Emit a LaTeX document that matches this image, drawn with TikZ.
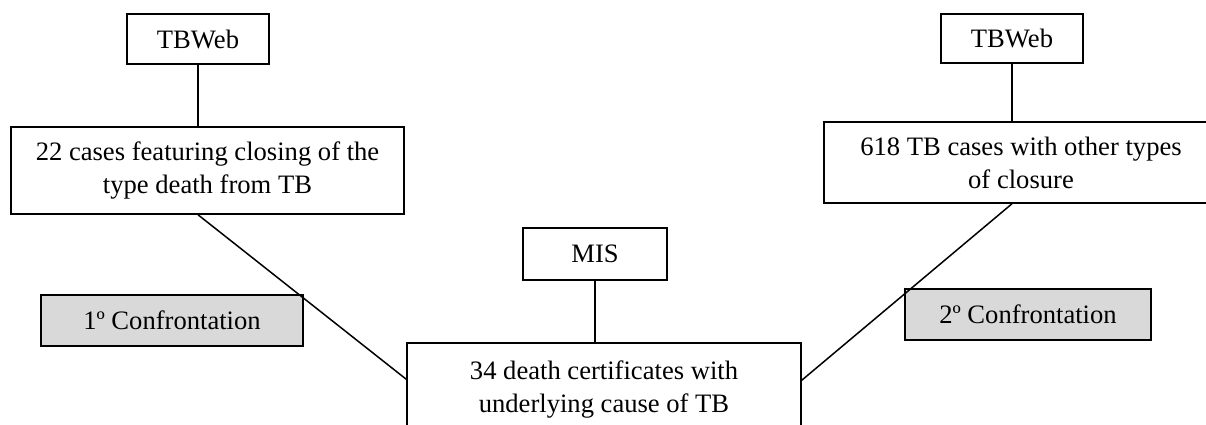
\documentclass[tikz,border=0pt]{standalone}
\usepackage{fontspec}
\setmainfont{Liberation Serif}
\usepackage{tikz}
\usetikzlibrary{calc}

\begin{document}
\begin{tikzpicture}[x=0.5pt,y=-0.5pt,
        kotak/.style={draw, line width=0.75pt, align=center, inner sep=0pt, font=\fontsize{13.3}{16.5}\selectfont},
        abu/.style={kotak, fill=gray!30}]
        %BATAS
        \path[use as bounding box, clip] (0,0) rectangle (1206,424);
        %KOTAK
        \node[kotak, minimum width=71pt, minimum height=25pt] (tbwebA) at (198,39) {TBWeb};
        \node[kotak, minimum width=196.5pt, minimum height=43.5pt] (kasusTB) at (207.5,170.5) {22 cases featuring closing of the\\type death from TB};
        \node[kotak, minimum width=71pt, minimum height=24.5pt] (tbwebB) at (1012,38.5) {TBWeb};
        \node[kotak, minimum width=197pt, minimum height=40.5pt] (kasusLain) at (1021,162.5) {618 TB cases with other types\\of closure};
        \node[kotak, minimum width=72pt, minimum height=26pt] (mis) at (595,254) {MIS};
        \node[kotak, minimum width=197pt, minimum height=46pt] (sertifikat) at (604,389) {34 death certificates with\\underlying cause of TB};
        \node[abu, minimum width=131pt, minimum height=25.5pt] (konfA) at (172,320.5) {1º Confrontation};
        \node[abu, minimum width=123pt, minimum height=25.5pt] (konfB) at (1028,314.5) {2º Confrontation};
        %TITIK
        \coordinate (kiri) at ($(sertifikat.north west)+(0,37)$);
        \coordinate (kanan) at ($(sertifikat.north east)+(0,38)$);
        %GARIS
        \draw[line width=0.75pt] (tbwebA.south) -- (tbwebA.south |- kasusTB.north);
        \draw[line width=0.75pt] (tbwebB.south) -- (tbwebB.south |- kasusLain.north);
        \draw[line width=0.75pt] (mis.south) -- (mis.south |- sertifikat.north);
        \draw[line width=0.75pt] (tbwebA.south |- kasusTB.south) -- (kiri);
        \draw[line width=0.75pt] (tbwebB.south |- kasusLain.south) -- (kanan);
\end{tikzpicture}
\end{document}
